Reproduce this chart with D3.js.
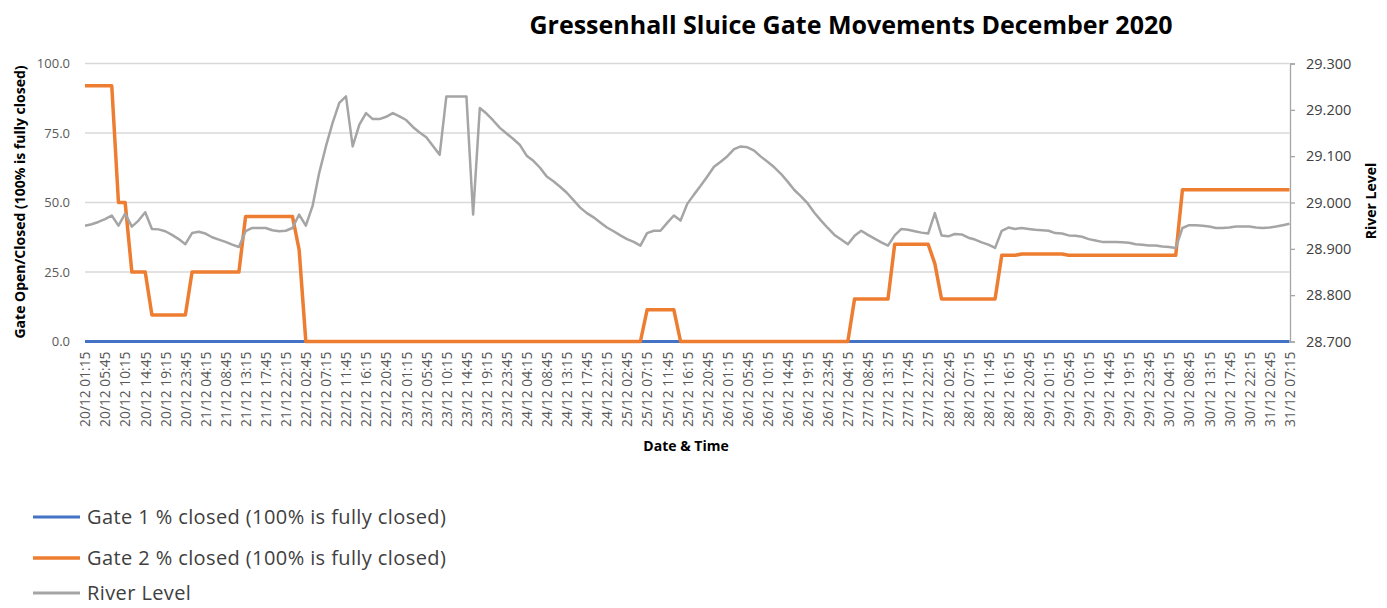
<!DOCTYPE html>
<html>
<head>
<meta charset="utf-8">
<script src="https://cdn.jsdelivr.net/npm/d3@7"></script>
<style>
  html, body { margin: 0; padding: 0; background: #fff; }
  svg { display: block; font-family: "Open Sans", "Noto Sans", sans-serif; }
</style>
</head>
<body>
<svg id="chart" width="1387" height="608"></svg>
<script>
// ---------- DATA ----------
const days = ["20/12","21/12","22/12","23/12","24/12","25/12","26/12","27/12","28/12","29/12","30/12","31/12"];
const times = ["01:15","02:45","04:15","05:45","07:15","08:45","10:15","11:45","13:15","14:45","16:15","17:45","19:15","20:45","22:15","23:45"];
const categories = days.flatMap(d => times.map(t => d + " " + t)).slice(0, 181);
const tickLabels = categories.filter((c, i) => i % 3 === 0);

const gate1 = categories.map(() => 0);

const gate2 = [
  92,92,92,92,92, 50,50, 25,25,25, 9.5,9.5,9.5,9.5,9.5,9.5,
  25,25,25,25,25,25,25,25, 45,45,45,45,45,45,45,45, 33,
  0,0,0,0,0,0,0,0,0,0, 0,0,0,0,0,0,0,0,0,0, 0,0,0,0,0,0,0,0,0,0,
  0,0,0,0,0,0,0,0,0,0, 0,0,0,0,0,0,0,0,0,0, 0,
  11.4,11.4,11.4,11.4,11.4,
  0,0,0,0,0,0,0,0,0,0, 0,0,0,0,0,0,0,0,0,0, 0,0,0,0,0,0,
  15.3,15.3,15.3,15.3,15.3,15.3, 35,35,35,35,35,35, 28,
  15.3,15.3,15.3,15.3,15.3,15.3,15.3,15.3,15.3,
  31,31,31, 31.5,31.5,31.5,31.5,31.5,31.5,31.5,
  31,31,31,31,31,31,31,31,31,31,31,31,31,31,31,31,31,
  54.6,54.6,54.6,54.6,54.6,54.6,54.6,54.6,54.6,54.6,54.6,54.6,54.6,54.6,54.6,54.6,54.6
];

const riverLevel = [
  28.950,28.953,28.958,28.964,28.972,28.950,28.976,28.948,28.961,28.979,
  28.943,28.942,28.938,28.930,28.921,28.910,28.934,28.937,28.933,28.925,
  28.920,28.915,28.909,28.904,28.938,28.945,28.945,28.945,28.940,28.938,
  28.939,28.945,28.974,28.950,28.992,29.064,29.121,29.172,29.215,29.229,
  29.121,29.168,29.193,29.180,29.180,29.185,29.193,29.186,29.178,29.163,
  29.151,29.141,29.122,29.103,29.229,29.229,29.229,29.229,28.974,29.204,
  29.192,29.177,29.161,29.149,29.137,29.124,29.101,29.090,29.075,29.056,
  29.046,29.034,29.021,29.005,28.989,28.977,28.968,28.957,28.946,28.938,
  28.929,28.921,28.915,28.907,28.934,28.939,28.939,28.956,28.972,28.961,
  28.997,29.017,29.036,29.056,29.077,29.088,29.100,29.115,29.121,29.119,
  29.112,29.099,29.088,29.076,29.062,29.045,29.027,29.013,28.998,28.978,
  28.961,28.945,28.930,28.920,28.910,28.928,28.939,28.930,28.922,28.914,
  28.907,28.929,28.943,28.941,28.938,28.935,28.933,28.977,28.929,28.927,
  28.932,28.931,28.924,28.920,28.914,28.909,28.902,28.939,28.946,28.943,
  28.945,28.943,28.941,28.940,28.939,28.934,28.933,28.929,28.928,28.926,
  28.921,28.918,28.915,28.915,28.915,28.914,28.913,28.910,28.909,28.907,
  28.907,28.905,28.904,28.902,28.945,28.951,28.951,28.950,28.948,28.945,
  28.945,28.946,28.948,28.948,28.948,28.946,28.945,28.946,28.948,28.951,
  28.954
];

const leftTicks = [0, 25, 50, 75, 100];
const rightTicks = [28.7, 28.8, 28.9, 29.0, 29.1, 29.2, 29.3];

const seriesNames = [
  "Gate 1 % closed (100% is fully closed)",
  "Gate 2 % closed (100% is fully closed)",
  "River Level"
];
const colors = ["#4472C4", "#ED7D31", "#A5A5A5"];

// ---------- CHART ----------
const svg = d3.select("#chart");
const plot = { left: 85, right: 1289.5, top: 63.5, bottom: 341.5 };

const x = d3.scalePoint().domain(categories).range([plot.left, plot.right]);
const yL = d3.scaleLinear().domain([0, 100]).range([plot.bottom, plot.top]);
const yR = d3.scaleLinear().domain([28.7, 29.3]).range([plot.bottom, plot.top]);

// Title
svg.append("text")
  .attr("x", 851).attr("y", 34)
  .attr("text-anchor", "middle")
  .attr("font-size", 25).attr("font-weight", "bold").attr("fill", "#000")
  .text("Gressenhall Sluice Gate Movements December 2020");

// Gridlines
svg.append("g")
  .selectAll("line").data(leftTicks.filter(d => d > 0)).join("line")
  .attr("x1", plot.left).attr("x2", plot.right)
  .attr("y1", d => yL(d)).attr("y2", d => yL(d))
  .attr("stroke", "#d9d9d9").attr("stroke-width", 1.3);

// Left axis (labels only)
const leftAxis = d3.axisLeft(yL).tickValues(leftTicks).tickFormat(d3.format(".1f")).tickSize(0).tickPadding(0);
const gL = svg.append("g").attr("transform", "translate(70,0)").call(leftAxis);
gL.select(".domain").remove();
gL.selectAll("text").attr("font-size", 13).attr("fill", "#595959").attr("font-family", "Open Sans, sans-serif");

// Right axis
const rightAxis = d3.axisRight(yR).tickValues(rightTicks).tickFormat(d3.format(".3f")).tickSize(5).tickPadding(11);
const gR = svg.append("g").attr("transform", `translate(${plot.right + 0.5},0)`).call(rightAxis);
gR.select(".domain").attr("stroke", "#a6a6a6").attr("stroke-width", 1.3);
gR.selectAll(".tick line").attr("stroke", "#a6a6a6").attr("stroke-width", 1.3);
gR.selectAll("text").attr("font-size", 14.5).attr("fill", "#404040").attr("font-family", "Open Sans, sans-serif");

// Bottom axis (labels only)
const bottomAxis = d3.axisBottom(x).tickValues(tickLabels).tickSize(0).tickPadding(0);
const gB = svg.append("g").attr("transform", `translate(0,${plot.bottom})`).call(bottomAxis);
gB.select(".domain").attr("stroke", "#d9d9d9");
gB.selectAll("text")
  .attr("font-size", 13.8).attr("fill", "#595959").attr("font-family", "Open Sans, sans-serif")
  .attr("text-anchor", "end")
  .attr("dy", "0.35em")
  .attr("transform", "translate(0,10) rotate(-90)")
  .attr("x", 0).attr("y", 0);

// Axis titles
svg.append("text")
  .attr("transform", "translate(25,202) rotate(-90)")
  .attr("text-anchor", "middle").attr("font-size", 14).attr("font-weight", "bold").attr("fill", "#000")
  .text("Gate Open/Closed (100% is fully closed)");
svg.append("text")
  .attr("transform", "translate(1376,201) rotate(-90)")
  .attr("text-anchor", "middle").attr("font-size", 14).attr("font-weight", "bold").attr("fill", "#000")
  .text("River Level");
svg.append("text")
  .attr("x", 686).attr("y", 451)
  .attr("text-anchor", "middle").attr("font-size", 14).attr("font-weight", "bold").attr("fill", "#000")
  .text("Date & Time");

// Lines
const lineL = d3.line().x((d, i) => x(categories[i])).y(d => yL(d));
const lineR = d3.line().x((d, i) => x(categories[i])).y(d => yR(d));

svg.append("path").datum(gate1).attr("d", lineL)
  .attr("fill", "none").attr("stroke", colors[0]).attr("stroke-width", 3);
svg.append("path").datum(gate2).attr("d", lineL)
  .attr("fill", "none").attr("stroke", colors[1]).attr("stroke-width", 3.5).attr("stroke-linejoin", "round");
svg.append("path").datum(riverLevel).attr("d", lineR)
  .attr("fill", "none").attr("stroke", colors[2]).attr("stroke-width", 2.5).attr("stroke-linejoin", "round");

// Legend
const legendY = [517, 558, 593];
const lg = svg.append("g").selectAll("g").data(seriesNames).join("g")
  .attr("transform", (d, i) => `translate(0,${legendY[i]})`);
lg.append("line").attr("x1", 33).attr("x2", 80).attr("y1", 0).attr("y2", 0)
  .attr("stroke", (d, i) => colors[i]).attr("stroke-width", (d, i) => i === 1 ? 3.5 : 3);
lg.append("text").attr("x", 87).attr("y", 0).attr("dy", "0.35em")
  .attr("font-size", 20).attr("letter-spacing", 0.4).attr("fill", "#404040")
  .text(d => d);
</script>
</body>
</html>
